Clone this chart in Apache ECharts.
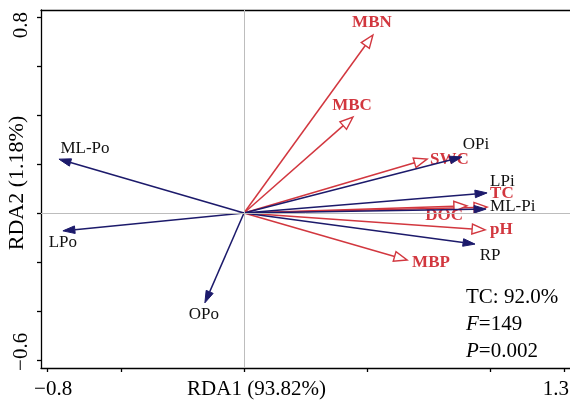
<!DOCTYPE html>
<html>
<head>
<meta charset="utf-8">
<script src="https://cdn.jsdelivr.net/npm/echarts@6/dist/echarts.min.js"></script>
<style>
  html, body { margin: 0; padding: 0; background: #fff; }
  #chart { width: 570px; height: 405px; }
</style>
</head>
<body>
<div id="chart"></div>
<script>
// soil properties (red, open heads)
const envNames = ['MBN', 'MBC', 'SWC', 'TC', 'DOC', 'pH', 'MBP'];
const envRDA1 = [0.524, 0.443, 0.744, 0.988, 0.906, 0.980, 0.663];
const envRDA2 = [0.727, 0.392, 0.220, 0.024, 0.029, -0.069, -0.192];

// P fractions (navy, filled heads)
const pNames = ['ML-Po', 'LPo', 'OPo', 'OPi', 'LPi', 'ML-Pi', 'RP'];
const pRDA1 = [-0.752, -0.736, -0.159, 0.886, 0.988, 0.984, 0.939];
const pRDA2 = [0.220, -0.073, -0.367, 0.229, 0.082, 0.016, -0.127];

const xTicks = [-0.8, -0.5, 0, 0.5, 1.0, 1.3];
const yTicks = [-0.6, -0.4, -0.2, 0, 0.2, 0.4, 0.6, 0.8];
const xLabels = [-0.8, 1.3];
const yLabels = [-0.6, 0.8];

const FONT = "'Liberation Serif', 'Times New Roman', serif";
const RED = '#d2373f';
const NAVY = '#1c1a6b';

// label placement relative to the arrow tip: [dx, dy, align]
const labelPlace = {
  'MBN': [-1, -12, 'center'],
  'MBC': [-1, -11, 'center'],
  'SWC': [3, 0, 'left'],
  'TC': [3, -14, 'left'],
  'DOC': [-4, 10, 'right'],
  'pH': [5, 0, 'left'],
  'MBP': [5, 3, 'left'],
  'ML-Po': [26, -11, 'center'],
  'LPo': [0, 12, 'center'],
  'OPo': [-1, 12, 'center'],
  'OPi': [14, -12, 'center'],
  'LPi': [3, -11, 'left'],
  'ML-Pi': [4, -3, 'left'],
  'RP': [15, 11, 'center']
};

function arrows(names, open, color, textColor, bold) {
  return function (params, api) {
    const name = names[api.value(2)];
    const p0 = api.coord([0, 0]);
    const p1 = api.coord([api.value(0), api.value(1)]);
    const dx = p1[0] - p0[0], dy = p1[1] - p0[1];
    const len = Math.sqrt(dx * dx + dy * dy);
    const ux = dx / len, uy = dy / len;
    const L = open ? 13 : 12, W = open ? 5 : 3.8;
    const bx = p1[0] - ux * L, by = p1[1] - uy * L;
    const nx = -uy, ny = ux;
    const pl = labelPlace[name];
    return {
      type: 'group',
      children: [
        {
          type: 'line',
          shape: { x1: p0[0], y1: p0[1], x2: bx, y2: by },
          style: { stroke: color, lineWidth: 1.5 }
        },
        {
          type: 'polygon',
          shape: { points: [[p1[0], p1[1]], [bx + nx * W, by + ny * W], [bx - nx * W, by - ny * W]] },
          style: { fill: open ? '#fff' : color, stroke: color, lineWidth: open ? 1.4 : 1 }
        },
        {
          type: 'text',
          style: {
            text: name,
            x: p1[0] + pl[0],
            y: p1[1] + pl[1],
            align: pl[2],
            verticalAlign: 'middle',
            fontFamily: FONT,
            fontSize: 17,
            fontWeight: bold ? 'bold' : 'normal',
            fill: textColor
          }
        }
      ]
    };
  };
}

const chart = echarts.init(document.getElementById('chart'));
chart.setOption({
  animation: false,
  grid: { left: 41, right: 0, top: 10, bottom: 37, containLabel: false, outerBoundsMode: 'none' },
  xAxis: [{
    type: 'value',
    min: -0.825,
    max: 1.325,
    name: 'RDA1 (93.82%)',
    nameLocation: 'middle',
    nameGap: 11,
    nameMoveOverlap: false,
    nameTextStyle: { fontFamily: FONT, fontSize: 21, color: '#000', verticalAlign: 'top', padding: [0, 98, 0, 0] },
    axisLine: { show: true, onZero: false, lineStyle: { color: '#000', width: 1.3 } },
    axisTick: { show: true, length: 4, customValues: xTicks, lineStyle: { color: '#000', width: 1.3 } },
    axisLabel: {
      customValues: xLabels,
      margin: 11,
      formatter: v => v < 0 ? '{l|−0.8}' : '{r|1.3}',
      rich: {
        l: { fontFamily: FONT, fontSize: 21, color: '#000', padding: [0, 0, 0, 12] },
        r: { fontFamily: FONT, fontSize: 21, color: '#000', padding: [0, 16, 0, 0] }
      }
    },
    splitLine: { show: false }
  }, {
    type: 'value',
    position: 'top',
    min: -0.825,
    max: 1.325,
    axisLine: { show: true, onZero: false, lineStyle: { color: '#000', width: 1.3 } },
    axisTick: { show: false },
    axisLabel: { show: false },
    splitLine: { show: false }
  }],
  yAxis: {
    type: 'value',
    min: -0.633,
    max: 0.829,
    name: 'RDA2 (1.18%)',
    nameLocation: 'middle',
    nameGap: 13,
    nameMoveOverlap: false,
    nameTextStyle: { fontFamily: FONT, fontSize: 22, color: '#000', padding: [0, 0, 0, 12] },
    axisLine: { show: true, onZero: false, lineStyle: { color: '#000', width: 1.3 } },
    axisTick: { show: true, length: 4, customValues: yTicks, lineStyle: { color: '#000', width: 1.3 } },
    axisLabel: {
      customValues: yLabels,
      rotate: 90,
      margin: 9,
      formatter: v => v > 0 ? '{t|0.8}' : '{b|−0.6}',
      rich: {
        t: { fontFamily: FONT, fontSize: 21, color: '#000', padding: [0, 16, 0, 0] },
        b: { fontFamily: FONT, fontSize: 21, color: '#000', padding: [0, 0, 0, 16] }
      }
    },
    splitLine: { show: false }
  },
  series: [
    {
      type: 'line',
      data: [],
      markLine: {
        silent: true,
        symbol: 'none',
        label: { show: false },
        lineStyle: { color: '#bdbdbd', width: 1, type: 'solid' },
        data: [{ xAxis: 0 }, { yAxis: 0 }]
      }
    },
    {
      type: 'custom',
      renderItem: arrows(envNames, true, RED, RED, true),
      encode: { x: 0, y: 1 },
      data: envNames.map((n, i) => [envRDA1[i], envRDA2[i], i])
    },
    {
      type: 'custom',
      renderItem: arrows(pNames, false, NAVY, '#111', false),
      encode: { x: 0, y: 1 },
      data: pNames.map((n, i) => [pRDA1[i], pRDA2[i], i])
    }
  ],
  graphic: [{
    type: 'text',
    left: 466,
    top: 284,
    style: {
      text: 'TC: 92.0%\n{i|F}=149\n{i|P}=0.002',
      fontFamily: FONT,
      fontSize: 21,
      lineHeight: 27,
      fill: '#000',
      rich: {
        i: { fontFamily: FONT, fontSize: 21, fontStyle: 'italic', lineHeight: 27 }
      }
    }
  }]
});
</script>
</body>
</html>
